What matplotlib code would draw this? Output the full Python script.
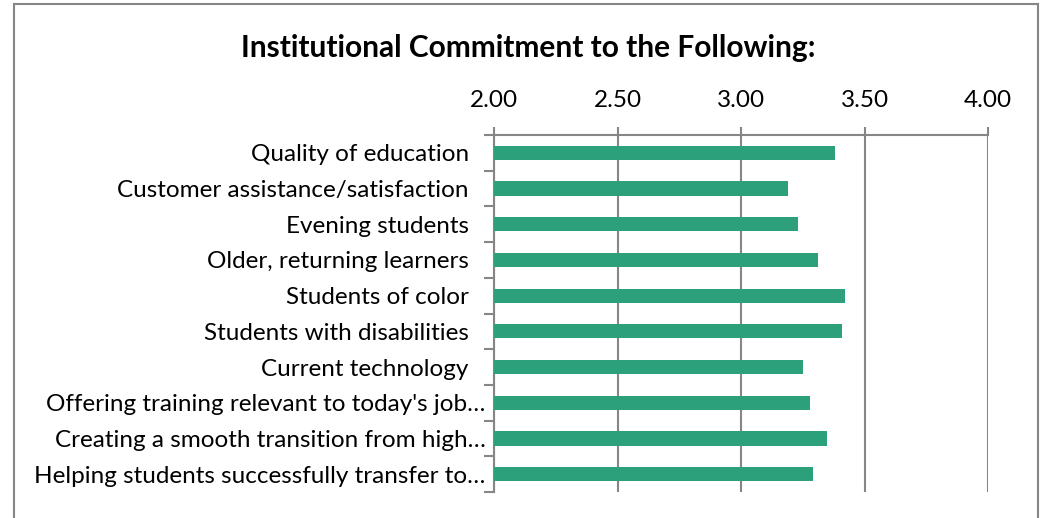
import numpy as np
import matplotlib.pyplot as plt
from matplotlib.patches import Rectangle
from matplotlib.ticker import FixedLocator
from matplotlib.transforms import ScaledTranslation

categories = [
    "Quality of education",
    "Customer assistance/satisfaction",
    "Evening students",
    "Older, returning learners",
    "Students of color",
    "Students with disabilities",
    "Current technology",
    "Offering training relevant to today's job\u2026",
    "Creating a smooth transition from high\u2026",
    "Helping students successfully transfer to\u2026",
]
values = [3.38, 3.19, 3.23, 3.31, 3.42, 3.41, 3.25, 3.28, 3.35, 3.29]
xticks = [2.00, 2.50, 3.00, 3.50, 4.00]

plt.rcParams['font.family'] = ['Lato', 'DejaVu Sans']

fig = plt.figure(figsize=(10.47, 5.18), dpi=100)
W, H = 1047, 518
ax = fig.add_axes([494 / W, 1 - 492 / H, (988 - 494) / W, (492 - 135) / H])

gray = '#868686'
y = np.arange(len(categories))
ax.barh(y, [v - 2 for v in values], left=2, height=0.4, color='#2ca07a', zorder=3)

ax.set_xlim(2, 4)
ax.set_ylim(len(categories) - 0.5, -0.5)
ax.xaxis.set_major_locator(FixedLocator(xticks))
ax.set_xticklabels([f"{t:.2f}" for t in xticks], fontsize=17.5)
ax.xaxis.tick_top()
ax.tick_params(axis='x', length=6, width=1.5, color=gray, pad=11)
ax.grid(axis='x', color=gray, linewidth=1.5, zorder=0)

ax.set_yticks(y)
ax.set_yticklabels(categories, fontsize=17.5)
ax.tick_params(axis='y', length=0, pad=6)
ax.yaxis.set_minor_locator(FixedLocator(np.arange(len(categories) + 1) - 0.5))
ax.tick_params(axis='y', which='minor', length=7, width=1.5, color=gray)

# labels that were not cut short sit a little further from the axis
for lab in ax.get_yticklabels():
    if not lab.get_text().endswith("\u2026"):
        lab.set_transform(lab.get_transform() + ScaledTranslation(-0.17, 0, fig.dpi_scale_trans))

for side in ['right', 'bottom']:
    ax.spines[side].set_visible(False)
for side in ['top', 'left']:
    ax.spines[side].set_color(gray)
    ax.spines[side].set_linewidth(1.5)

fig.text(528 / W, 1 - 48 / H, "Institutional Commitment to the Following:",
         ha='center', va='center', fontsize=21.5, fontweight='bold')

fig.patches.append(Rectangle((14 / W, -0.05), (1038 - 14) / W, 1 - 4 / H + 0.05,
                             transform=fig.transFigure, fill=False,
                             edgecolor=gray, linewidth=1.5))

fig.savefig("out.png", dpi=100)
